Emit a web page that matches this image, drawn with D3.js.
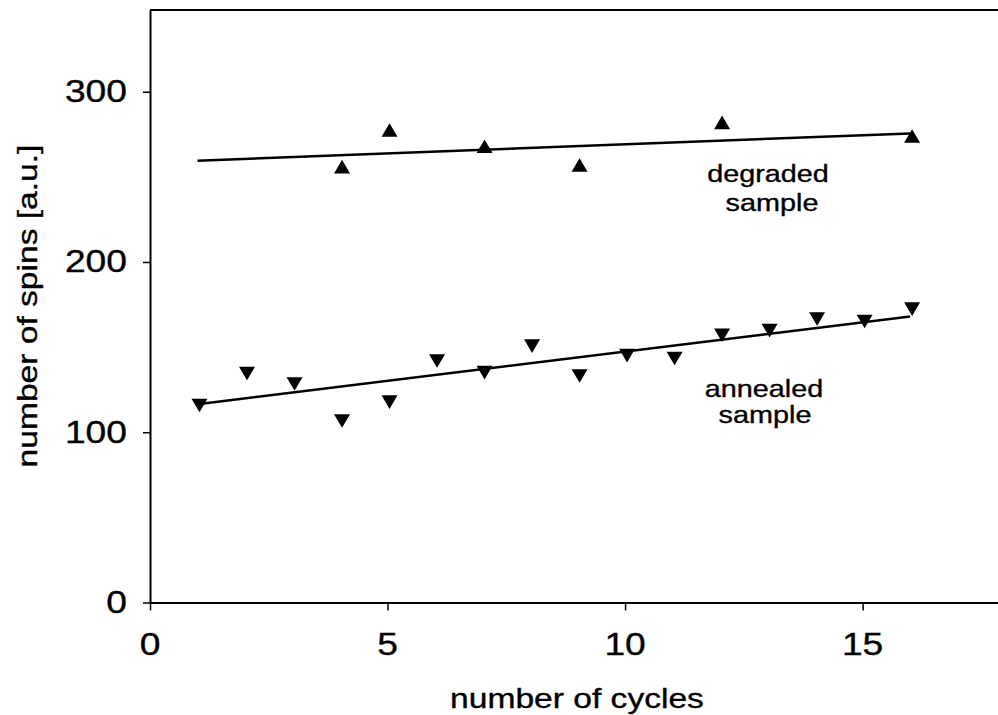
<!DOCTYPE html>
<html>
<head>
<meta charset="utf-8">
<script src="https://cdn.jsdelivr.net/npm/d3@7"></script>
<style>
  html, body { margin: 0; padding: 0; background: #fff; }
  svg { display: block; }
  text { font-family: "Liberation Sans", Arial, Helvetica, sans-serif; fill: #000; stroke: #000; stroke-width: 0.35px; }
</style>
</head>
<body>
<svg id="chart" width="998" height="715"></svg>
<script>
// ---- data ----
const degradedX = [4, 5, 7, 9, 12, 16];
const degradedY = [256, 277.5, 268, 257, 282, 274];
const annealedX = [1, 2, 3, 4, 5, 6, 7, 8, 9, 10, 11, 12, 13, 14, 15, 16];
const annealedY = [115.7, 134.5, 128.3, 106.6, 117.7, 141.8, 135, 150.6, 133, 145, 143.3, 157, 159.7, 166.5, 165, 172.3];
const degradedFitX = [1, 16];
const degradedFitY = [259.5, 275.5];
const annealedFitX = [1, 16];
const annealedFitY = [116.5, 168];
const xTicks = [0, 5, 10, 15];
const yTicks = [0, 100, 200, 300];
const xTitle = "number of cycles";
const yTitle = "number of spins [a.u.]";
const degradedLabel = ["degraded", "sample"];
const annealedLabel = ["annealed", "sample"];

// ---- layout ----
const svg = d3.select("#chart");
const x = d3.scaleLinear().domain([0, 17.85]).range([150, 998]);
const y = d3.scaleLinear().domain([0, 348]).range([602.5, 10]);
const SX = 1.2; // horizontal stretch of the original typeface

// frame: top line
svg.append("line")
  .attr("x1", x(0)).attr("x2", x(17.85))
  .attr("y1", y(348)).attr("y2", y(348))
  .attr("stroke", "#000").attr("stroke-width", 2);

// axes
const xAxis = d3.axisBottom(x).tickValues(xTicks).tickFormat("").tickSize(8).tickSizeOuter(0);
const yAxis = d3.axisLeft(y).tickValues(yTicks).tickFormat("").tickSize(7).tickSizeOuter(0);
const gx = svg.append("g").attr("transform", `translate(0,${y(0)})`).call(xAxis);
const gy = svg.append("g").attr("transform", `translate(${x(0)},0)`).call(yAxis);
[gx, gy].forEach(g => {
  g.select(".domain").attr("stroke", "#000").attr("stroke-width", 2);
  g.selectAll(".tick line").attr("stroke", "#000").attr("stroke-width", 1.5);
});

// tick labels
svg.append("g").selectAll("g").data(xTicks).join("g")
  .attr("transform", d => `translate(${x(d)},${y(0) + 52}) scale(${SX},1)`)
  .append("text").attr("text-anchor", "middle").attr("font-size", 31).text(d => d);
svg.append("g").selectAll("g").data(yTicks).join("g")
  .attr("transform", d => `translate(127,${y(d) + 10.5}) scale(${SX},1)`)
  .append("text").attr("text-anchor", "end").attr("font-size", 31).text(d => d);

// axis titles
svg.append("g").attr("transform", `translate(577,708) scale(${SX},1)`)
  .append("text").attr("text-anchor", "middle").attr("font-size", 28).text(xTitle);
svg.append("g").attr("transform", `translate(37,306) rotate(-90) scale(${SX},1)`)
  .append("text").attr("text-anchor", "middle").attr("font-size", 28).text(yTitle);

// fit lines
const line = d3.line().x(d => x(d[0])).y(d => y(d[1]));
svg.append("path").datum(d3.zip(degradedFitX, degradedFitY))
  .attr("d", line).attr("fill", "none").attr("stroke", "#000").attr("stroke-width", 2.5);
svg.append("path").datum(d3.zip(annealedFitX, annealedFitY))
  .attr("d", line).attr("fill", "none").attr("stroke", "#000").attr("stroke-width", 2.5);

// markers
const w = 8, h = 6.8;
const up = `M0,${-h}L${w},${h}L${-w},${h}Z`;
const down = `M0,${h}L${w},${-h}L${-w},${-h}Z`;
svg.append("g").selectAll("path").data(d3.zip(degradedX, degradedY)).join("path")
  .attr("d", up).attr("fill", "#000")
  .attr("transform", d => `translate(${x(d[0]) + 2},${y(d[1])})`);
svg.append("g").selectAll("path").data(d3.zip(annealedX, annealedY)).join("path")
  .attr("d", down).attr("fill", "#000")
  .attr("transform", d => `translate(${x(d[0]) + 2},${y(d[1])})`);

// annotations
function label(lines, cx, b1, b2, cx2) {
  svg.append("g").attr("transform", `translate(${cx},${b1}) scale(${SX},1)`)
    .append("text").attr("text-anchor", "middle").attr("font-size", 24).text(lines[0]);
  svg.append("g").attr("transform", `translate(${cx2},${b2}) scale(${SX},1)`)
    .append("text").attr("text-anchor", "middle").attr("font-size", 24).text(lines[1]);
}
label(degradedLabel, 768, 182, 211, 772);
label(annealedLabel, 764, 397, 423, 765);
</script>
</body>
</html>
